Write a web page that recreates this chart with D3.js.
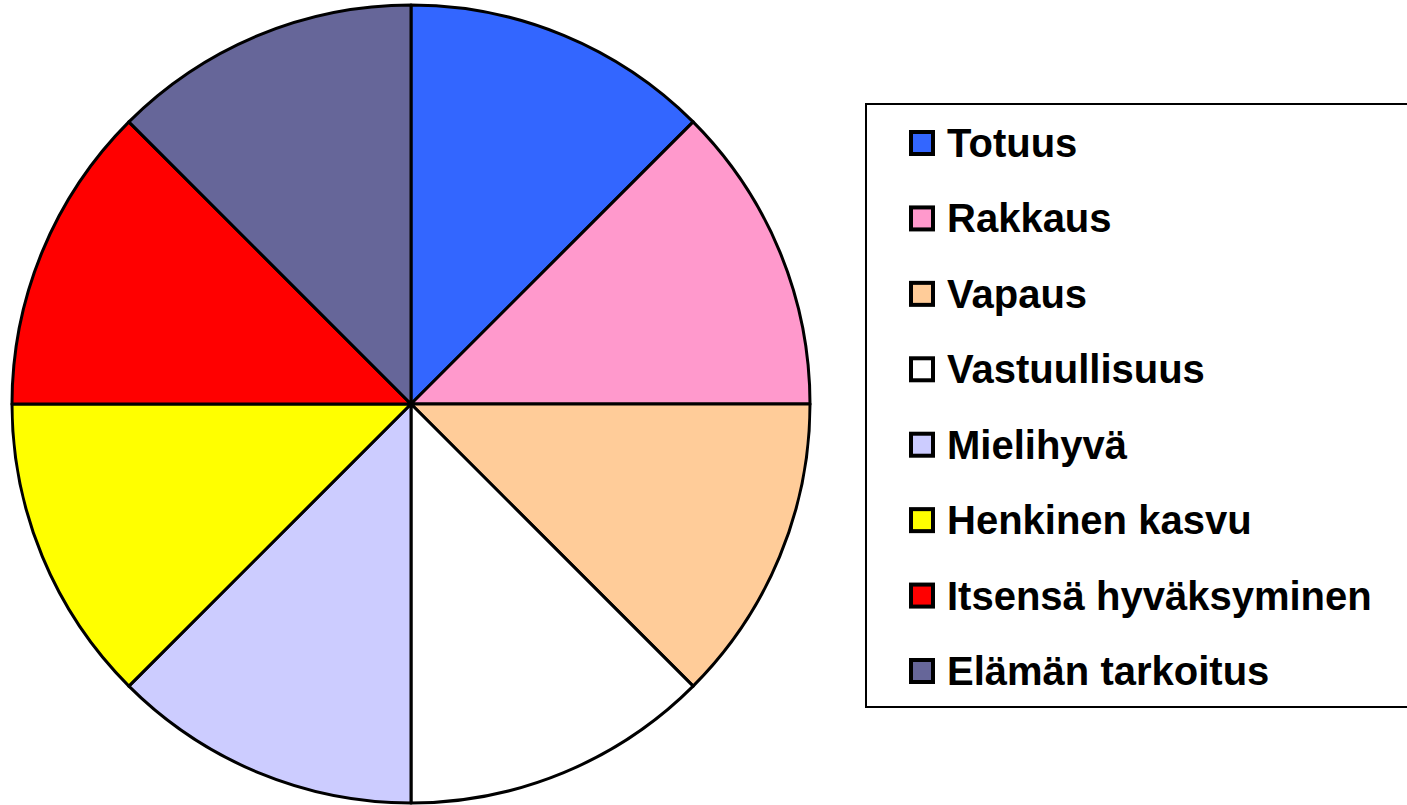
<!DOCTYPE html>
<html>
<head>
<meta charset="utf-8">
<script src="https://cdn.jsdelivr.net/npm/d3@7"></script>
<style>
  html, body { margin: 0; padding: 0; background: #fff; overflow: hidden; }
  svg { display: block; }
</style>
</head>
<body>
<svg id="chart" width="1407" height="805"></svg>
<script>
// ─── Data ─────────────────────────────────────────────────────────────────────

const LABELS = [
  "Totuus", "Rakkaus", "Vapaus", "Vastuullisuus",
  "Mielihyvä", "Henkinen kasvu", "Itsensä hyväksyminen", "Elämän tarkoitus",
];
const VALUES = [1, 1, 1, 1, 1, 1, 1, 1];
const COLORS = [
  "#3366ff", "#ff99cc", "#ffcc99", "#ffffff",
  "#ccccff", "#ffff00", "#ff0000", "#666699",
];

// ─── Pie ──────────────────────────────────────────────────────────────────────

const svg = d3.select("#chart");
const cx = 411, cy = 404, R = 399;

const pie = d3.pie().sort(null).value(d => d.value);
const arc = d3.arc().innerRadius(0).outerRadius(R);
const data = LABELS.map((label, i) => ({ label, value: VALUES[i], color: COLORS[i] }));

svg.append("g")
  .attr("transform", `translate(${cx},${cy})`)
  .selectAll("path")
  .data(pie(data))
  .join("path")
  .attr("d", arc)
  .attr("fill", d => d.data.color)
  .attr("stroke", "#000")
  .attr("stroke-width", 3)
  .attr("stroke-linejoin", "round");

// ─── Legend ───────────────────────────────────────────────────────────────────

const legend = svg.append("g");
legend.append("rect")
  .attr("x", 866).attr("y", 104)
  .attr("width", 560).attr("height", 603)
  .attr("fill", "#fff")
  .attr("stroke", "#000")
  .attr("stroke-width", 2);

const rowY = d3.scaleLinear().domain([0, LABELS.length - 1]).range([143, 671]);

const item = legend.selectAll("g.item")
  .data(data)
  .join("g")
  .attr("class", "item")
  .attr("transform", (d, i) => `translate(0,${rowY(i)})`);

item.append("rect")
  .attr("x", 911).attr("y", -11)
  .attr("width", 22).attr("height", 22)
  .attr("fill", d => d.color)
  .attr("stroke", "#000")
  .attr("stroke-width", 4);

item.append("text")
  .attr("x", 947).attr("y", 14)
  .attr("font-family", "Liberation Sans, Arial, sans-serif")
  .attr("font-weight", "bold")
  .attr("font-size", 40)
  .attr("fill", "#000")
  .text(d => d.label);
</script>
</body>
</html>
